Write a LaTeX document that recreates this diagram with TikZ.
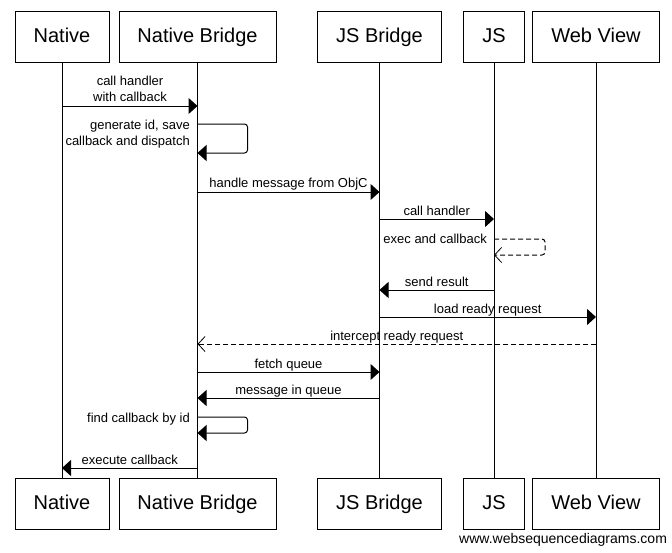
\documentclass[tikz,border=0pt]{standalone}
\usepackage{fontspec}
\setmainfont{Liberation Sans}
\usetikzlibrary{arrows.meta}
\begin{document}
\begin{tikzpicture}[x=1pt,y=-1pt,
  actor/.style={draw,line width=1pt,minimum height=51pt,inner sep=0pt,text height=16.4pt,text depth=4pt,font=\fontsize{20}{24}\selectfont},
  life/.style={line width=1pt},
  msg/.style={line width=1pt,-{Triangle[length=9pt,width=16pt]}},
  reply/.style={line width=1pt,dash pattern=on 5pt off 3pt,-{Straight Barb[length=7pt,width=15pt,line width=0.8pt]}},
  lbl/.style={font=\fontsize{13}{16.5}\selectfont,inner sep=0pt},
  selfloop/.style={rounded corners=3pt}]
\useasboundingbox (0,0) rectangle (672,552);
% top actors
\node[actor,minimum width=94pt]  (N)   at (62,36.5)    {Native};
\node[actor,minimum width=157pt] (NB)  at (197.5,36.5) {Native Bridge};
\node[actor,minimum width=124pt] (JB)  at (379.5,36.5) {JS Bridge};
\node[actor,minimum width=61pt]  (JS)  at (494,36.5)   {JS};
\node[actor,minimum width=127pt] (WV)  at (596,36.5)   {Web View};
% bottom actors
\node[actor,minimum width=94pt]  (Nb)  at (62,503.5)    {Native};
\node[actor,minimum width=157pt] (NBb) at (197.5,503.5) {Native Bridge};
\node[actor,minimum width=124pt] (JBb) at (379.5,503.5) {JS Bridge};
\node[actor,minimum width=61pt]  (JSb) at (494,503.5)   {JS};
\node[actor,minimum width=127pt] (WVb) at (596,503.5)   {Web View};
% lifelines
\draw[life] (N)  -- (Nb);
\draw[life] (NB) -- (NBb);
\draw[life] (JB) -- (JBb);
\draw[life] (JS) -- (JSb);
\draw[life] (WV) -- (WVb);
% 1
\draw[msg] (N |- 0,106) -- (NB |- 0,106);
\node[lbl,anchor=south,align=center] (l1) at (130,102) {call handler\\with callback};
% 2 self
\draw[msg,selfloop] (NB |- 0,124) -| ++(50,29) -- (NB |- 0,153);
\node[lbl,anchor=south east,align=right] (l2) at (190,148.5) {generate id, save\\callback and dispatch};
% 3
\draw[msg] (NB |- 0,192) -- node[lbl,anchor=base,yshift=4.5pt] {handle message from ObjC} (JB |- 0,192);
% 4
\draw[msg] (JB |- 0,219) -- node[lbl,anchor=base,yshift=4pt] {call handler} (JS |- 0,219);
% 5 self dashed
\draw[reply,selfloop] (JS |- 0,239) -| ++(51,16) -- (JS |- 0,255);
\node[lbl,anchor=base east] (l5) at (487,243) {exec and callback};
% 6
\draw[msg] (JS |- 0,290) -- node[lbl,anchor=base,yshift=4pt] {send result} (JB |- 0,290);
% 7
\draw[msg] (JB |- 0,317) -- node[lbl,anchor=base,yshift=4pt] {load ready request} (WV |- 0,317);
% 8
\draw[reply] (WV |- 0,344) -- node[lbl,anchor=base,yshift=4pt] {intercept ready request} (NB |- 0,344);
% 9
\draw[msg] (NB |- 0,372) -- node[lbl,anchor=base,yshift=4pt] {fetch queue} (JB |- 0,372);
% 10
\draw[msg] (JB |- 0,398) -- node[lbl,anchor=base,yshift=4pt] {message in queue} (NB |- 0,398);
% 11 self
\draw[msg,selfloop] (NB |- 0,417) -| ++(50,16) -- (NB |- 0,433);
\node[lbl,anchor=base east] (l11) at (190,422) {find callback by id};
% 12
\draw[msg] (NB |- 0,468) -- node[lbl,anchor=base,yshift=4pt] {execute callback} (N |- 0,468);
% footer
\node[font=\fontsize{14}{16}\selectfont,inner sep=0pt,anchor=base west] (ft) at (459,543) {www.websequencediagrams.com};
\end{tikzpicture}
\end{document}
